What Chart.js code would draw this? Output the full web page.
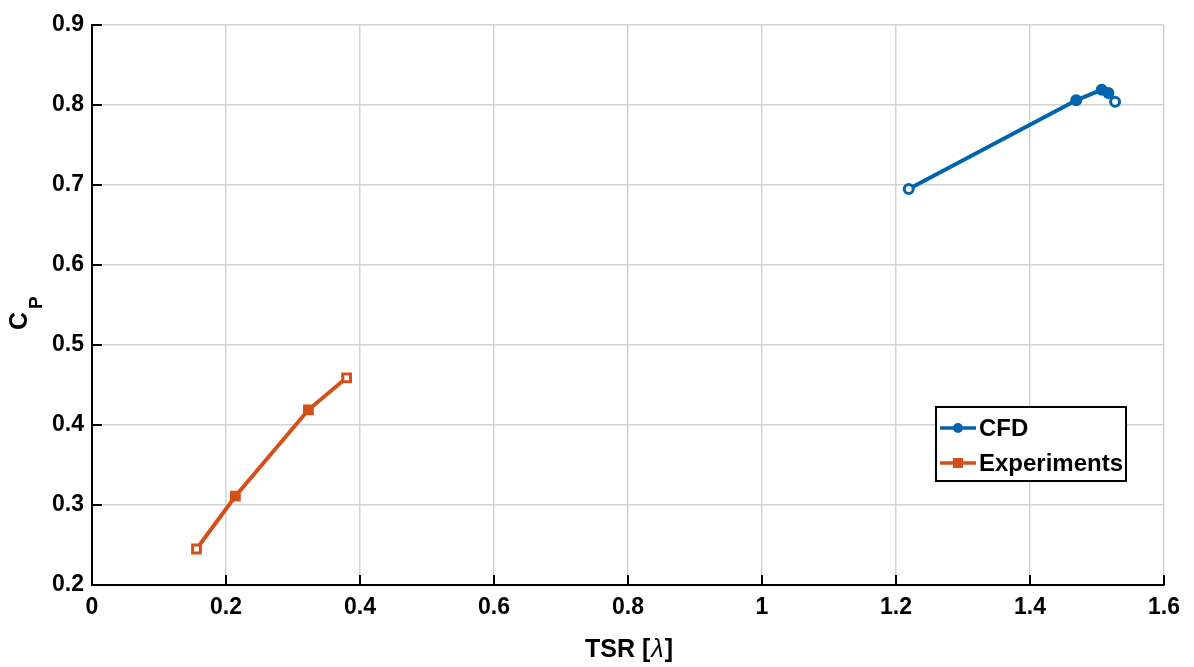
<!DOCTYPE html>
<html>
<head>
<meta charset="utf-8">
<script src="https://cdn.jsdelivr.net/npm/chart.js@4.4.1/dist/chart.umd.min.js"></script>
<style>
  html, body { margin: 0; padding: 0; background: #fff; }
  #wrap { width: 1194px; height: 667px; }
</style>
</head>
<body>
<div id="wrap"><canvas id="cpChart" width="1194" height="667"></canvas></div>
<script>
// values
const cfdTsr = [1.219, 1.469, 1.507, 1.517, 1.527];
const cfdCp = [0.695, 0.806, 0.819, 0.815, 0.804];
const expTsr = [0.156, 0.214, 0.323, 0.380];
const expCp = [0.245, 0.311, 0.419, 0.459];
const xTicks = [0, 0.2, 0.4, 0.6, 0.8, 1, 1.2, 1.4, 1.6];
const yTicks = [0.2, 0.3, 0.4, 0.5, 0.6, 0.7, 0.8, 0.9];

const blue = '#0063AE';
const orange = '#D4501A';
const font = '"Liberation Sans", Arial, sans-serif';

function toPoints(xs, ys) {
    return xs.map((x, i) => ({ x: x, y: ys[i] }));
}

// inward tick marks, axis titles and legend box, like the MATLAB figure
const decorations = {
    id: 'decorations',
    afterDraw(chart) {
        const ctx = chart.ctx;
        const a = chart.chartArea;
        const xs = chart.scales.x;
        const ys = chart.scales.y;

        ctx.save();
        ctx.strokeStyle = '#000';
        ctx.lineWidth = 2;
        ctx.beginPath();
        xTicks.forEach(v => {
            const px = Math.round(xs.getPixelForValue(v));
            ctx.moveTo(px, a.bottom);
            ctx.lineTo(px, a.bottom - 10);
        });
        yTicks.forEach(v => {
            const py = Math.round(ys.getPixelForValue(v));
            ctx.moveTo(a.left, py);
            ctx.lineTo(a.left + 10, py);
        });
        ctx.stroke();

        // x title
        ctx.fillStyle = '#000';
        ctx.textBaseline = 'alphabetic';
        ctx.font = 'bold 25px ' + font;
        const t1 = 'TSR [';
        const t2 = 'λ';
        const t3 = ']';
        const w1 = ctx.measureText(t1).width;
        ctx.font = 'italic 25px ' + font;
        const w2 = ctx.measureText(t2).width;
        ctx.font = 'bold 25px ' + font;
        const w3 = ctx.measureText(t3).width;
        let tx = (a.left + a.right) / 2 - (w1 + w2 + w3) / 2;
        const ty = 657;
        ctx.textAlign = 'left';
        ctx.fillText(t1, tx, ty);
        ctx.font = 'italic 25px ' + font;
        ctx.fillText(t2, tx + w1 + 1, ty);
        ctx.font = 'bold 25px ' + font;
        ctx.fillText(t3, tx + w1 + w2 + 2, ty);

        // y title C with subscript P
        ctx.save();
        ctx.translate(27, 330);
        ctx.rotate(-Math.PI / 2);
        ctx.font = 'bold 25px ' + font;
        ctx.fillText('C', 0, 0);
        const cw = ctx.measureText('C').width;
        ctx.font = 'bold 19px ' + font;
        ctx.fillText('P', cw + 3, 15);
        ctx.restore();

        // legend box
        const lx = a.right - 228;
        const lyTop = 407;
        const lw = 190;
        const lh = 74;
        ctx.fillStyle = '#fff';
        ctx.fillRect(lx, lyTop, lw, lh);
        ctx.strokeStyle = '#000';
        ctx.lineWidth = 2;
        ctx.strokeRect(lx, lyTop, lw, lh);

        const items = [
            { label: 'CFD', color: blue, shape: 'circle', y: lyTop + 21 },
            { label: 'Experiments', color: orange, shape: 'rect', y: lyTop + 56 }
        ];
        items.forEach(it => {
            ctx.strokeStyle = it.color;
            ctx.lineWidth = 3.5;
            ctx.beginPath();
            ctx.moveTo(lx + 4, it.y);
            ctx.lineTo(lx + 40, it.y);
            ctx.stroke();
            ctx.fillStyle = it.color;
            if (it.shape === 'circle') {
                ctx.beginPath();
                ctx.arc(lx + 22, it.y, 5, 0, Math.PI * 2);
                ctx.fill();
            } else {
                ctx.fillRect(lx + 17, it.y - 5, 10, 10);
            }
            ctx.fillStyle = '#000';
            ctx.font = 'bold 24px ' + font;
            ctx.textAlign = 'left';
            ctx.textBaseline = 'middle';
            ctx.fillText(it.label, lx + 43, it.y + 1);
        });
        ctx.restore();
    }
};

const ctx = document.getElementById('cpChart').getContext('2d');
new Chart(ctx, {
    type: 'line',
    data: {
        datasets: [{
            label: 'CFD',
            data: toPoints(cfdTsr, cfdCp),
            borderColor: blue,
            backgroundColor: blue,
            pointBackgroundColor: ['#fff', blue, blue, blue, '#fff'],
            pointBorderColor: blue,
            pointBorderWidth: 3,
            pointRadius: 4.5,
            pointStyle: 'circle',
            borderWidth: 4,
            fill: false,
            tension: 0
        }, {
            label: 'Experiments',
            data: toPoints(expTsr, expCp),
            borderColor: orange,
            backgroundColor: orange,
            pointBackgroundColor: ['#fff', orange, orange, '#fff'],
            pointBorderColor: orange,
            pointBorderWidth: 3,
            pointRadius: 5.5,
            pointStyle: 'rect',
            borderWidth: 4,
            fill: false,
            tension: 0
        }]
    },
    options: {
        responsive: false,
        animation: false,
        layout: { padding: { top: 25, right: 30, left: 0, bottom: 0 } },
        plugins: {
            legend: { display: false },
            tooltip: { enabled: false }
        },
        scales: {
            x: {
                type: 'linear',
                min: 0,
                max: 1.6,
                afterBuildTicks(scale) {
                    scale.ticks = xTicks.map(v => ({ value: v }));
                },
                afterFit(scale) { scale.height = 82; },
                ticks: {
                    color: '#000',
                    font: { family: font, size: 23, weight: 'bold' },
                    padding: 9,
                    maxRotation: 0,
                    callback: v => String(v)
                },
                grid: {
                    color: '#d3d3d3',
                    lineWidth: 1.5,
                    drawTicks: false
                },
                border: { display: true, color: '#000', width: 2 }
            },
            y: {
                type: 'linear',
                min: 0.2,
                max: 0.9,
                afterBuildTicks(scale) {
                    scale.ticks = yTicks.map(v => ({ value: v }));
                },
                afterFit(scale) { scale.width = 92; },
                ticks: {
                    color: '#000',
                    font: { family: font, size: 23, weight: 'bold' },
                    padding: 8,
                    callback: v => v.toFixed(1)
                },
                grid: {
                    color: '#d3d3d3',
                    lineWidth: 1.5,
                    drawTicks: false
                },
                border: { display: true, color: '#000', width: 2 }
            }
        }
    },
    plugins: [decorations]
});
</script>
</body>
</html>
